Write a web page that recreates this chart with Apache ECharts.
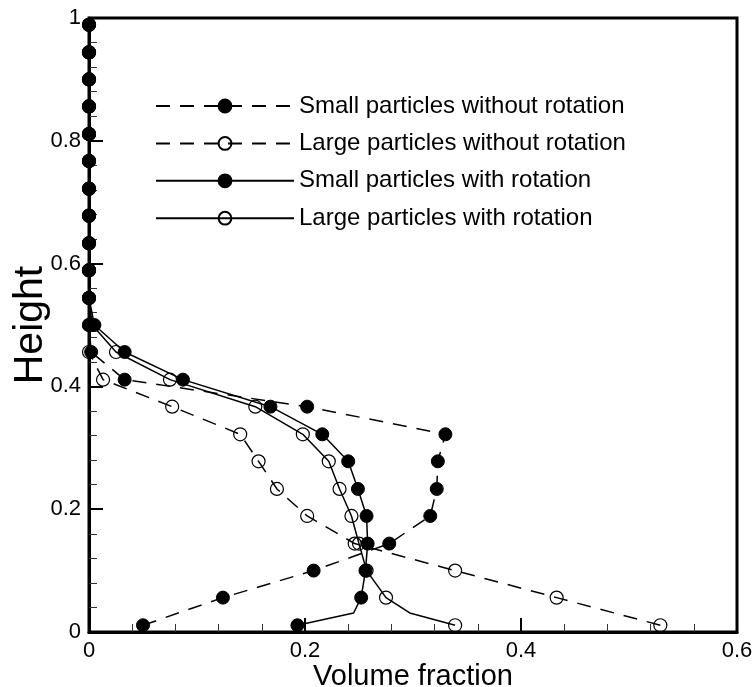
<!DOCTYPE html>
<html>
<head>
<meta charset="utf-8">
<script src="https://cdn.jsdelivr.net/npm/echarts@6/dist/echarts.min.js"></script>
<style>
html,body{margin:0;padding:0;background:#fff;}
#c{width:754px;height:687px;}
</style>
</head>
<body>
<div id="c"></div>
<script>
// Heights of the sampled points (y values)
const heights = [0.011, 0.056, 0.100, 0.144, 0.189, 0.233, 0.278, 0.322, 0.367, 0.411, 0.456, 0.500,
                 0.544, 0.589, 0.633, 0.678, 0.722, 0.767, 0.811, 0.856, 0.900, 0.944, 0.989];
// Volume fraction (x values) per series
const smallNoRot = [0.050, 0.124, 0.208, 0.278, 0.316, 0.322, 0.323, 0.330, 0.202, 0.033, 0.002, 0,
                    0, 0, 0, 0, 0, 0, 0, 0, 0, 0, 0];
const largeNoRot = [0.529, 0.433, 0.339, 0.246, 0.202, 0.174, 0.157, 0.140, 0.077, 0.013, 0, 0,
                    0, 0, 0, 0, 0, 0, 0, 0, 0, 0, 0];
const smallRot   = [0.193, 0.252, 0.256, 0.258, 0.257, 0.249, 0.240, 0.216, 0.168, 0.087, 0.033, 0.005,
                    0, 0, 0, 0, 0, 0, 0, 0, 0, 0, 0];
const largeRot   = [0.339, 0.275, 0.257, 0.250, 0.243, 0.232, 0.222, 0.198, 0.154, 0.075, 0.025, 0.003,
                    0, 0, 0, 0, 0, 0, 0, 0, 0, 0, 0];
// extra unmarked line points (curve vertices between markers near the bottom)
const smallRotExtra = [0.245, 0.031];
const largeRotExtra = [0.297, 0.031];

const seriesNames = ['Small particles without rotation', 'Large particles without rotation',
                     'Small particles with rotation', 'Large particles with rotation'];
const xTicks = [0, 0.2, 0.4, 0.6];
const yTicks = [0, 0.2, 0.4, 0.6, 0.8, 1];

function pts(xs, extra) {
  const arr = xs.map((x, i) => ({ value: [x, heights[i]] }));
  if (extra) arr.splice(1, 0, { value: extra, symbol: 'none' });
  return arr;
}

const FONT = '"Liberation Sans", Arial, sans-serif';
const chart = echarts.init(document.getElementById('c'));

function mk(name, xs, dashed, filled, extra) {
  return {
    name: name,
    type: 'line',
    data: pts(xs, extra),
    symbol: 'circle',
    symbolSize: 13,
    showAllSymbol: true,
    clip: false,
    lineStyle: { color: '#000', width: 1.5, type: dashed ? [14, 10] : 'solid' },
    itemStyle: filled ? { color: '#000', borderColor: '#000', borderWidth: 1 }
                      : { color: 'rgba(255,255,255,0)', borderColor: '#000', borderWidth: 1.2 },
    emphasis: { disabled: true },
    animation: false
  };
}

chart.setOption({
  animation: false,
  backgroundColor: '#fff',
  grid: { left: 89, top: 18, right: 17, bottom: 55, show: true, borderColor: '#000', borderWidth: 3,
          containLabel: false, outerBoundsMode: 'none' },
  legend: {
    orient: 'vertical',
    left: 150, top: 89,
    itemWidth: 138, itemHeight: 16,
    itemGap: 13.4,
    data: seriesNames,
    textStyle: { fontSize: 24, color: '#000', fontFamily: FONT },
    selectedMode: false
  },
  xAxis: {
    type: 'value', min: 0, max: 0.6, interval: 0.2,
    name: 'Volume fraction', nameLocation: 'middle', nameGap: 30, nameMoveOverlap: false,
    nameTextStyle: { fontSize: 29, color: '#000', fontFamily: FONT },
    axisLine: { show: true, lineStyle: { color: '#000', width: 3 } },
    axisTick: { show: true, inside: true, length: 14, lineStyle: { color: '#000', width: 2 } },
    minorTick: { show: true, splitNumber: 5, length: 8, lineStyle: { color: '#333', width: 1 } },
    splitLine: { show: false },
    axisLabel: { fontSize: 22, color: '#000', fontFamily: FONT, margin: 8,
                 formatter: v => { const t = xTicks.find(t => Math.abs(t - v) < 1e-9); return t === undefined ? '' : String(t); } }
  },
  yAxis: {
    type: 'value', min: 0, max: 1, interval: 0.2,
    name: 'Height', nameLocation: 'middle', nameGap: 38, nameMoveOverlap: false,
    nameTextStyle: { fontSize: 41, color: '#000', fontFamily: FONT },
    axisLine: { show: true, lineStyle: { color: '#000', width: 3 } },
    axisTick: { show: true, inside: true, length: 14, lineStyle: { color: '#000', width: 2 } },
    minorTick: { show: true, splitNumber: 5, length: 8, lineStyle: { color: '#333', width: 1 } },
    splitLine: { show: false },
    axisLabel: { fontSize: 22, color: '#000', fontFamily: FONT, margin: 8,
                 formatter: v => { const t = yTicks.find(t => Math.abs(t - v) < 1e-9); return t === undefined ? '' : String(t); } }
  },
  series: [
    mk(seriesNames[0], smallNoRot, true, true),
    mk(seriesNames[1], largeNoRot, true, false),
    mk(seriesNames[2], smallRot, false, true, smallRotExtra),
    mk(seriesNames[3], largeRot, false, false, largeRotExtra)
  ]
});
</script>
</body>
</html>
